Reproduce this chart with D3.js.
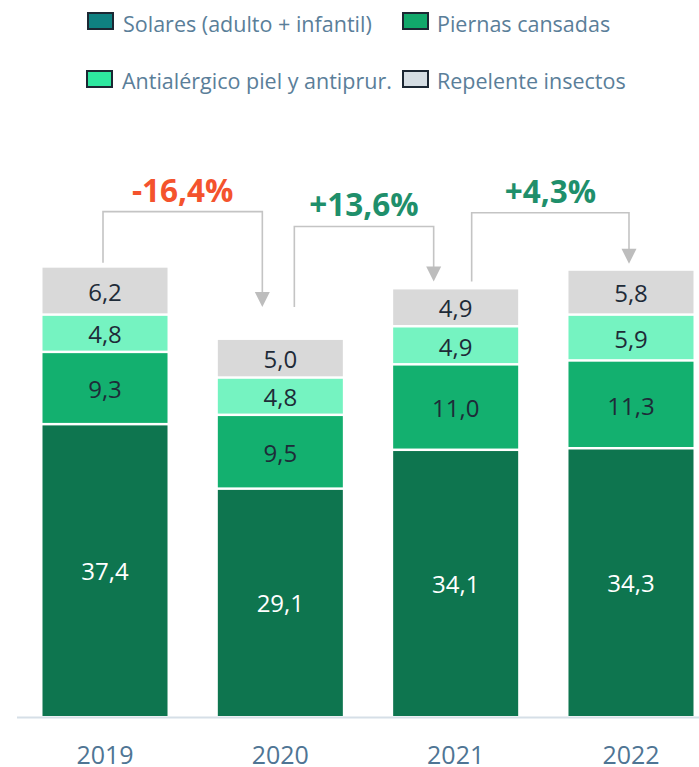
<!DOCTYPE html>
<html>
<head>
<meta charset="utf-8">
<script src="https://cdn.jsdelivr.net/npm/d3@7"></script>
<style>
  body { margin: 0; background: #fff; }
  text { font-family: 'Open Sans', sans-serif; }
</style>
</head>
<body>
<div id="chart"></div>
<script>
// Data
const years = ['2019', '2020', '2021', '2022']
const series = ['Solares (adulto + infantil)', 'Piernas cansadas', 'Antialérgico piel y antiprur.', 'Repelente insectos']
const solares = [37.4, 29.1, 34.1, 34.3]
const piernas = [9.3, 9.5, 11.0, 11.3]
const antialergico = [4.8, 4.8, 4.9, 5.9]
const repelente = [6.2, 5.0, 4.9, 5.8]
const changes = ['-16,4%', '+13,6%', '+4,3%']

// Styles
const barColors = ['#0e754f', '#13b06f', '#75f3c1', '#d9d9d9']
const legendColors = ['#0f8181', '#11a86b', '#2ee8a0', '#d5dde3']
const labelColors = ['#ffffff', '#1e2b38', '#1e2b38', '#1e2b38']

const W = 699, H = 767
const baseY = 716

const svg = d3.select('#chart').append('svg')
  .attr('width', W)
  .attr('height', H)

const x = d3.scaleBand().domain(years).range([42.5, 693.5]).paddingInner(0.287).paddingOuter(0)
const y = d3.scaleLinear().domain([0, 60]).range([baseY, baseY - 60 * 7.77])

// stack the series
const rows = years.map((yr, i) => ({
  year: yr,
  s0: solares[i], s1: piernas[i], s2: antialergico[i], s3: repelente[i]
}))
const keys = ['s0', 's1', 's2', 's3']
const stacked = d3.stack().keys(keys)(rows)

const gap = 2.5
const layers = svg.append('g').selectAll('g')
  .data(stacked)
  .join('g')
  .attr('fill', (d, i) => barColors[i])

layers.selectAll('rect')
  .data((d, i) => d.map(v => ({ v, i })))
  .join('rect')
  .attr('x', d => x(d.v.data.year))
  .attr('width', x.bandwidth())
  .attr('y', d => y(d.v[1]))
  .attr('height', d => y(d.v[0]) - y(d.v[1]) - (d.i > 0 ? gap : 0))

layers.selectAll('text')
  .data((d, i) => d.map(v => ({ v, i })))
  .join('text')
  .attr('x', d => x(d.v.data.year) + x.bandwidth() / 2)
  .attr('y', d => (y(d.v[0]) + y(d.v[1])) / 2 + 9)
  .attr('text-anchor', 'middle')
  .attr('font-size', 24)
  .attr('fill', d => labelColors[d.i])
  .text(d => (d.v[1] - d.v[0]).toFixed(1).replace('.', ','))

// baseline + x axis
svg.append('line')
  .attr('x1', 17).attr('x2', W)
  .attr('y1', 717.5).attr('y2', 717.5)
  .attr('stroke', '#d6dfe7')
  .attr('stroke-width', 2)

const xAxis = svg.append('g')
  .attr('transform', `translate(0, ${baseY})`)
  .call(d3.axisBottom(x).tickSize(0).tickPadding(30))
xAxis.select('.domain').remove()
xAxis.selectAll('text')
  .attr('font-size', 25)
  .attr('fill', '#4f7594')
  .style('font-family', "'Open Sans', sans-serif")

// change arrows between years
const totals = rows.map(r => r.s0 + r.s1 + r.s2 + r.s3)
const anchorGap = [5, 33, 8, 7]
const fromDx = [-2, 14, 16]
const toDx = [-18, -22, -2]
const rise = [56, 63, 58]
const arrowColor = '#c4c4c4'

changes.forEach((label, i) => {
  const x1 = x(years[i]) + x.bandwidth() / 2 + fromDx[i]
  const x2 = x(years[i + 1]) + x.bandwidth() / 2 + toDx[i]
  const yStart = y(totals[i]) - anchorGap[i]
  const yEnd = y(totals[i + 1]) - anchorGap[i + 1]
  const yTop = Math.min(y(totals[i]), y(totals[i + 1])) - rise[i]
  const g = svg.append('g')
  g.append('path')
    .attr('d', `M${x1},${yStart}V${yTop}H${x2}V${yEnd - 14}`)
    .attr('fill', 'none')
    .attr('stroke', arrowColor)
    .attr('stroke-width', 1.6)
  g.append('path')
    .attr('d', `M${x2 - 7.5},${yEnd - 15}L${x2 + 7.5},${yEnd - 15}L${x2},${yEnd}Z`)
    .attr('fill', '#bdbdbd')
  g.append('text')
    .attr('x', (x1 + x2) / 2)
    .attr('y', yTop - 10)
    .attr('text-anchor', 'middle')
    .attr('font-size', 31.5)
    .attr('font-weight', 700)
    .attr('fill', label.startsWith('-') ? '#f4532d' : '#1f8f6b')
    .text(label)
})

// legend
const legendPos = [[87, 12], [402, 12], [86, 70], [402, 70]]
const legend = svg.append('g').selectAll('g')
  .data(series)
  .join('g')
  .attr('transform', (d, i) => `translate(${legendPos[i][0]}, ${legendPos[i][1]})`)
legend.append('rect')
  .attr('x', 1).attr('y', 1)
  .attr('width', 25).attr('height', 16)
  .attr('fill', (d, i) => legendColors[i])
  .attr('stroke', '#1c2733')
  .attr('stroke-width', 2)
legend.append('text')
  .attr('x', (d, i) => i % 2 ? 35 : 36)
  .attr('y', (d, i) => i < 2 ? 19.5 : 18.5)
  .attr('font-size', 21.5)
  .attr('fill', '#5a7e99')
  .text(d => d)
</script>
</body>
</html>
